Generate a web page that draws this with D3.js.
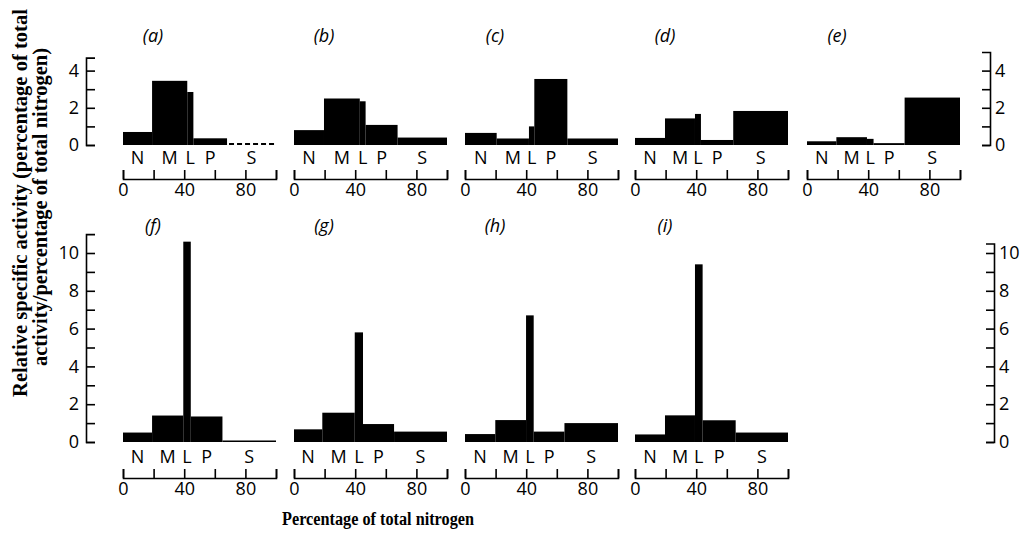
<!DOCTYPE html>
<html>
<head>
<meta charset="utf-8">
<script src="https://cdn.jsdelivr.net/npm/d3@7"></script>
<style>
  body { margin: 0; background: #fff; }
  svg { display: block; }
  .num, .cat, .plab { font-family: "Open Sans", sans-serif; fill: #000; }
  .title { font-family: "Liberation Serif", serif; font-weight: bold; fill: #000; }
  .domain, .tick line { stroke: #000; stroke-width: 1.6; }
</style>
</head>
<body>
<div id="main"></div>
<script>

// data: panel labels, fraction edges (% of total nitrogen) and bar heights
var panels = ["(a)", "(b)", "(c)", "(d)", "(e)", "(f)", "(g)", "(h)", "(i)"];
var fractions = ["N", "M", "L", "P", "S"];

var edges = [
    [0, 19, 42, 46, 68, 100],
    [0, 19.6, 43, 46.8, 67.7, 100],
    [0, 20.7, 41.8, 45.3, 66.9, 100],
    [0, 19.6, 39.2, 43.1, 64.2, 100],
    [0, 19.2, 39.2, 43.5, 63.8, 100],
    [0, 19, 39.4, 44.3, 65, 100],
    [0, 18.5, 39.7, 45.1, 65.4, 100],
    [0, 19.8, 39.9, 44.9, 65, 100],
    [0, 19.6, 39.2, 44.2, 65.8, 100]
];

var heights = [
    [0.7, 3.45, 2.85, 0.36, 0],
    [0.8, 2.5, 2.35, 1.08, 0.4],
    [0.65, 0.35, 1.0, 3.55, 0.35],
    [0.38, 1.43, 1.67, 0.27, 1.83],
    [0.2, 0.42, 0.33, 0.1, 2.55],
    [0.5, 1.4, 10.6, 1.35, 0.08],
    [0.67, 1.55, 5.8, 0.95, 0.55],
    [0.42, 1.16, 6.7, 0.55, 1.0],
    [0.4, 1.41, 9.4, 1.15, 0.5]
];

var xTicks = [0, 20, 40, 60, 80, 100];
var yTicksTop = [0, 1, 2, 3, 4];
var yTicksBottom = [0, 1, 2, 3, 4, 5, 6, 7, 8, 9, 10];

// dimensions
var svg_width = 1027, svg_height = 538;
var col_x = [123, 294, 465, 635, 807];
var rows = [
    {base: 145, unit: 18.6, leftMax: 4.7, rightMax: 5, ticks: yTicksTop, catY: 164, axisY: 179, labY: 42, rightX: 990},
    {base: 442, unit: 18.9, leftMax: 11, rightMax: 10.5, ticks: yTicksBottom, catY: 463, axisY: 478, labY: 232, rightX: 994}
];

var svg = d3.select("#main").append("svg")
    .attr("width", svg_width)
    .attr("height", svg_height);

var xScale = d3.scaleLinear().domain([0, 100]).range([0, 153]);
var evenOnly = function(d) { return d % 2 === 0 ? d : ""; };

rows.forEach(function(r, ri) {
    var yLeft = d3.scaleLinear().domain([0, r.leftMax]).range([r.base, r.base - r.leftMax * r.unit]);
    var yRight = d3.scaleLinear().domain([0, r.rightMax]).range([r.base, r.base - r.rightMax * r.unit]);

    var left = svg.append("g")
        .attr("transform", "translate(86,0)")
        .call(d3.axisLeft(yLeft).tickValues(r.ticks).tickFormat(evenOnly)
            .tickSize(-9).tickSizeOuter(-9).tickPadding(7));
    var right = svg.append("g")
        .attr("transform", "translate(" + r.rightX + ",0)")
        .call(d3.axisRight(yRight).tickValues(r.ticks).tickFormat(evenOnly)
            .tickSize(-8).tickSizeOuter(-8).tickPadding(5));
    [left, right].forEach(function(a) {
        a.selectAll("text").attr("class", "num").style("font-size", "18px");
        a.select(".domain").attr("fill", "none");
    });
});

panels.forEach(function(p, i) {
    var r = rows[i < 5 ? 0 : 1];
    var ox = col_x[i < 5 ? i : i - 5];
    var yScale = d3.scaleLinear().domain([0, 1]).range([r.base, r.base - r.unit]);
    var g = svg.append("g").attr("transform", "translate(" + ox + ",0)");

    var bars = fractions.map(function(f, j) {
        return {f: f, x0: edges[i][j], x1: edges[i][j + 1], v: heights[i][j]};
    });

    g.selectAll(".bar")
        .data(bars.filter(function(d) { return d.v > 0; }))
        .enter().append("rect")
        .attr("class", "bar")
        .attr("x", function(d) { return xScale(d.x0); })
        .attr("width", function(d) { return xScale(d.x1) - xScale(d.x0); })
        .attr("y", function(d) { return yScale(d.v); })
        .attr("height", function(d) { return yScale(0) - yScale(d.v); })
        .attr("fill", "#000");

    // zero activity drawn as a dashed line
    g.selectAll(".zero")
        .data(bars.filter(function(d) { return d.v === 0; }))
        .enter().append("line")
        .attr("x1", function(d) { return xScale(d.x0) + 2; })
        .attr("x2", function(d) { return xScale(d.x1); })
        .attr("y1", yScale(0) - 1).attr("y2", yScale(0) - 1)
        .attr("stroke", "#000").attr("stroke-width", 2)
        .attr("stroke-dasharray", "5,3");

    g.selectAll(".cat")
        .data(bars)
        .enter().append("text")
        .attr("class", "cat")
        .attr("x", function(d) { return xScale((d.x0 + d.x1) / 2); })
        .attr("y", r.catY)
        .attr("text-anchor", "middle")
        .style("font-size", "18px")
        .text(function(d) { return d.f; });

    var xa = g.append("g")
        .attr("transform", "translate(0," + r.axisY + ")")
        .call(d3.axisBottom(xScale).tickValues(xTicks)
            .tickFormat(function(d) { return d % 40 === 0 && d < 100 ? d : ""; })
            .tickSize(-9).tickSizeOuter(-9).tickPadding(4));
    xa.selectAll("text").attr("class", "num").style("font-size", "18px");
    xa.select(".domain").attr("fill", "none");

    g.append("text")
        .attr("class", "plab")
        .attr("x", 30).attr("y", r.labY)
        .attr("text-anchor", "middle")
        .style("font-size", "18px")
        .style("font-style", "italic")
        .text(p);
});

// axis titles
svg.append("text")
    .attr("class", "title")
    .attr("transform", "translate(27,203) rotate(-90)")
    .attr("text-anchor", "middle")
    .attr("textLength", 388)
    .attr("lengthAdjust", "spacingAndGlyphs")
    .style("font-size", "20px")
    .text("Relative specific activity (percentage of total");
svg.append("text")
    .attr("class", "title")
    .attr("transform", "translate(47,207) rotate(-90)")
    .attr("text-anchor", "middle")
    .attr("textLength", 318)
    .attr("lengthAdjust", "spacingAndGlyphs")
    .style("font-size", "20px")
    .text("activity/percentage of total nitrogen)");
svg.append("text")
    .attr("class", "title")
    .attr("x", 378).attr("y", 525)
    .attr("text-anchor", "middle")
    .attr("textLength", 192)
    .attr("lengthAdjust", "spacingAndGlyphs")
    .style("font-size", "18px")
    .text("Percentage of total nitrogen");

</script>
</body>
</html>
